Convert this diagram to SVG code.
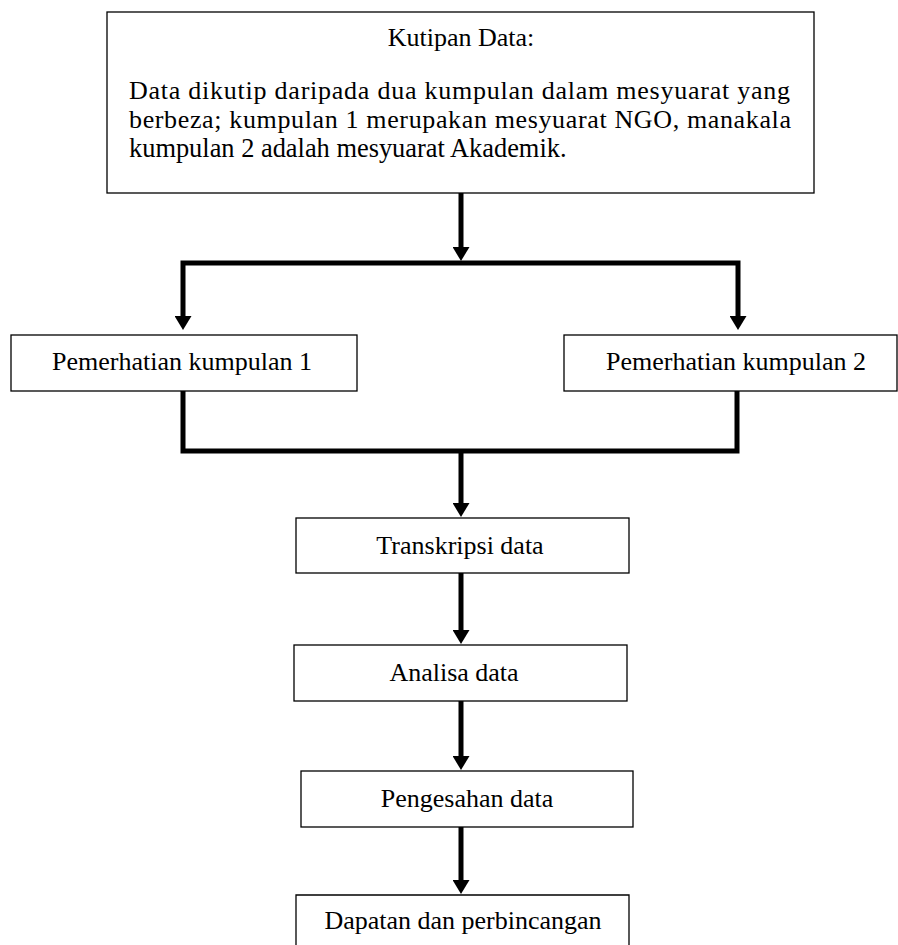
<svg xmlns="http://www.w3.org/2000/svg" width="898" height="945" viewBox="0 0 898 945">
<defs>
<marker id="ah" markerUnits="userSpaceOnUse" markerWidth="17" markerHeight="17" refX="2" refY="8.5" orient="auto" viewBox="0 0 17 17">
<path d="M0,0 L14,8.5 L0,17 z" fill="#000"/>
</marker>
<style>
.box{fill:#fff;stroke:#000;stroke-width:1.3}
.t{font-family:"Liberation Serif","Times New Roman",serif;font-size:26px;fill:#000}
.c{text-anchor:middle}
.con{fill:none;stroke:#000;stroke-width:5;stroke-linejoin:miter}
.arr{marker-end:url(#ah)}
</style>
</defs>
<rect width="898" height="945" fill="#fff"/>
<g id="connectors">
<path class="con arr" d="M461,193 V249"/>
<path class="con arr" d="M461,263 H183 V318"/>
<path class="con arr" d="M461,263 H738 V318"/>
<path class="con" d="M183,391 V451 H737 V391"/>
<path class="con arr" d="M461,451 V505"/>
<path class="con arr" d="M461,573 V632"/>
<path class="con arr" d="M461,701 V758"/>
<path class="con arr" d="M461,827 V882"/>
</g>
<g id="kutipan">
<rect class="box" x="107" y="12" width="707" height="181"/>
<text class="t c" x="461" y="46" font-family="Liberation Serif, serif">Kutipan Data:</text>
<text class="t" x="129" y="99" textLength="661" lengthAdjust="spacing" font-family="Liberation Serif, serif">Data dikutip daripada dua kumpulan dalam mesyuarat yang</text>
<text class="t" x="129" y="128" textLength="662" lengthAdjust="spacing" font-family="Liberation Serif, serif">berbeza; kumpulan 1 merupakan mesyuarat NGO, manakala</text>
<text class="t" x="129" y="157" font-family="Liberation Serif, serif" style="font-size:26.4px">kumpulan 2 adalah mesyuarat Akademik.</text>
</g>
<g id="kumpulan1">
<rect class="box" x="11" y="335" width="346" height="56"/>
<text class="t c" x="182" y="370">Pemerhatian kumpulan 1</text>
</g>
<g id="kumpulan2">
<rect class="box" x="564" y="335" width="333" height="56"/>
<text class="t c" x="736" y="370">Pemerhatian kumpulan 2</text>
</g>
<g id="transkripsi">
<rect class="box" x="296" y="518" width="333" height="55"/>
<text class="t c" x="460" y="554">Transkripsi data</text>
</g>
<g id="analisa">
<rect class="box" x="294" y="645" width="333" height="56"/>
<text class="t c" x="454" y="681">Analisa data</text>
</g>
<g id="pengesahan">
<rect class="box" x="301" y="771" width="332" height="56"/>
<text class="t c" x="467" y="807">Pengesahan data</text>
</g>
<g id="dapatan">
<path class="box" d="M296,946 V895 H629 V946"/>
<text class="t c" x="463" y="929">Dapatan dan perbincangan</text>
</g>
</svg>
